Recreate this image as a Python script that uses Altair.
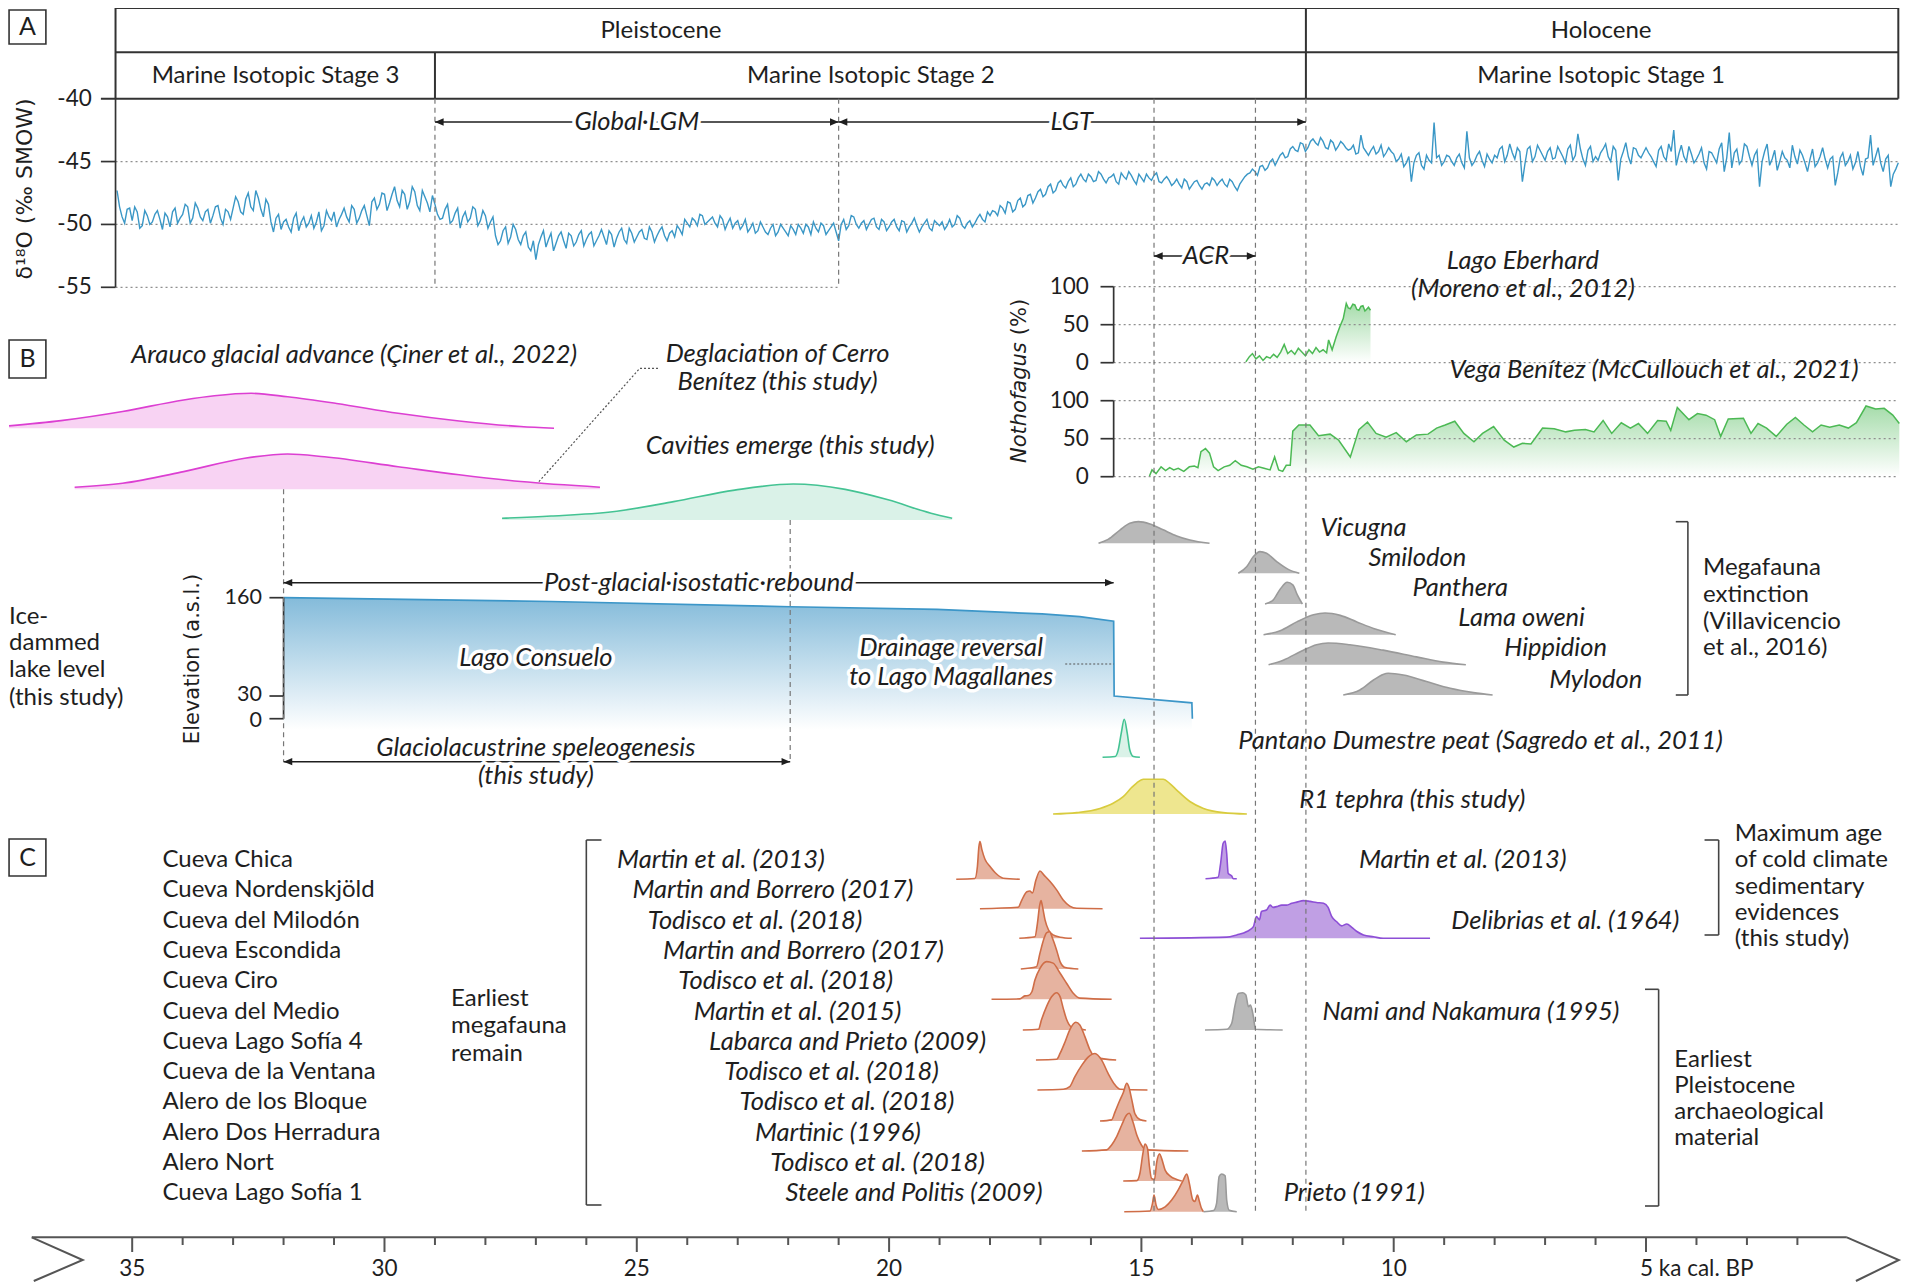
import altair as alt
import pandas as pd

# =====================================================================
# Values (ages in ka cal. BP)
# =====================================================================
# d18O (per mil SMOW): samples at 35.3, 35.2, ... 0.0 ka
D18O_FIRST_AGE = 35.3
D18O_STEP = 0.1
D18O = [
    -47.3, -49.4, -48.8,
    -49.7, -49.0, -50.1, -49.3, -49.8, -48.9, -50.4, -49.4, -49.0, -49.9,
    -49.2, -48.6, -49.5, -48.7, -49.7, -48.8, -49.3, -48.5, -50.0, -49.0,
    -48.7, -48.2, -49.2, -47.5, -48.9, -47.9, -49.4, -48.4, -50.6, -49.2,
    -49.8, -50.2, -49.5, -50.5, -49.4, -49.9, -50.3, -49.0, -50.1, -49.4,
    -49.0, -49.6, -48.7, -49.8, -48.8, -49.5, -48.5, -50.1, -47.9, -48.4,
    -47.6, -48.3, -47.0, -48.6, -47.6, -48.2, -47.4, -48.9, -47.8, -49.0,
    -48.4, -49.6, -48.8, -49.9, -49.1, -50.3, -49.0, -49.5, -48.8, -49.7,
    -49.3, -49.8, -50.9, -51.3, -50.2, -51.0, -50.4, -51.6, -50.6, -52.1,
    -52.8, -51.0, -51.8, -50.7, -51.5, -50.6, -51.9, -50.9, -51.4, -50.5,
    -51.2, -50.6, -51.3, -50.4, -51.6, -50.8, -51.1, -50.3, -51.5, -50.7,
    -51.0, -50.4, -51.2, -50.6, -50.9, -50.2, -51.3, -50.5, -50.1, -50.8,
    -49.9, -49.5, -50.1, -49.3, -49.8, -49.4, -50.2, -49.6, -49.9, -50.3,
    -49.7, -50.1, -50.6, -49.9, -50.5, -50.2, -50.8, -50.0, -50.6, -50.3,
    -50.9, -50.4, -50.0, -50.7, -50.2, -49.8, -50.6, -50.1, -50.5, -49.9,
    -51.3, -49.6, -50.1, -49.4, -50.3, -49.7, -50.0, -49.5, -50.4, -49.8,
    -50.2, -49.6, -50.5, -49.8, -50.2, -49.5, -50.6, -49.9, -50.3, -49.7,
    -50.1, -50.4, -49.6, -50.0, -49.5, -50.3, -49.7, -49.9, -49.2, -49.8,
    -49.3, -49.0, -48.5, -49.1, -48.3, -48.8, -47.9, -48.4, -47.6, -47.9,
    -47.2, -47.6, -46.8, -47.3, -46.5, -47.1, -46.3, -46.8, -46.0, -46.6,
    -46.2, -46.5, -46.0, -46.7, -46.2, -46.6, -45.9, -46.4, -46.1, -46.8,
    -46.3, -46.0, -46.5, -45.9, -46.7, -46.2, -46.9, -46.4, -47.1, -46.6,
    -46.9, -46.5, -47.2, -46.7, -46.3, -46.9, -46.4, -47.0, -46.6, -47.3,
    -46.5, -46.0, -45.6, -46.1, -45.3, -45.5, -44.8, -44.9, -44.3, -44.6,
    -43.8, -44.2, -43.6, -43.9, -43.2, -43.7, -43.4, -44.0, -43.5, -43.8,
    -43.6, -44.1, -43.7, -44.3, -43.9, -44.5, -43.8, -44.2, -44.6, -43.9,
    -44.4, -44.8, -45.4, -44.6, -45.1, -44.3, -45.6, -44.9, -41.9, -44.5,
    -45.0, -44.6, -45.3, -44.4, -45.5, -44.7, -45.0, -44.2, -45.4, -44.8,
    -44.5, -44.0, -45.0, -43.6, -44.8, -44.2, -45.2, -43.8, -44.6, -44.1,
    -44.9, -43.9, -44.7, -44.2, -45.1, -43.7, -44.5, -44.0, -45.3, -43.8,
    -44.6, -44.3, -43.6, -45.0, -44.1, -44.8, -43.5, -45.2, -44.0, -44.7,
    -43.9, -44.6, -45.4, -43.8, -44.9, -44.2, -45.3, -43.7, -45.0, -44.4,
    -44.8, -43.9, -45.6, -44.3, -45.1, -43.5, -44.7, -45.5, -44.0, -44.9,
    -43.8, -45.3, -44.1, -45.0, -43.6, -44.8, -45.7, -44.2, -44.9, -43.7,
    -45.2, -44.5, -45.8, -44.0, -45.1, -43.9, -45.5, -44.6, -45.9, -44.3,
    -45.0, -45.6, -44.2, -46.1, -44.7, -45.3, -43.9, -45.8, -44.5, -46.0,
    -45.1,
]
# d18O samples in between: 35.25, 35.15, ... 0.05 ka
D18O_MID_FIRST_AGE = 35.25
D18O_MID = [
    -48.6, -49.9, -48.7,
    -48.6, -50.3, -48.9, -50.0, -49.2, -49.6, -49.1, -50.2, -48.7, -49.5,
    -48.4, -49.9, -48.3, -49.4, -49.0, -49.9, -48.6, -49.5, -48.8, -49.6,
    -47.8, -49.0, -48.0, -48.6, -47.3, -48.8, -48.0, -49.8, -49.5, -50.4,
    -49.6, -50.6, -49.1, -49.8, -50.2, -49.3, -49.8, -50.5, -48.9, -49.7,
    -50.2, -49.2, -49.4, -48.5, -49.9, -48.9, -49.3, -48.2, -48.8, -47.5,
    -48.9, -47.6, -48.1, -47.3, -48.8, -47.0, -48.5, -47.3, -48.3, -47.7,
    -49.2, -49.5, -48.4, -49.7, -48.7, -49.4, -49.8, -48.6, -50.1, -48.9,
    -50.3, -49.4, -51.6, -50.5, -51.5, -50.0, -51.2, -50.9, -51.8, -51.3,
    -51.6, -50.5, -51.2, -52.1, -50.9, -51.3, -50.7, -51.7, -50.8, -51.7,
    -50.8, -51.7, -50.9, -51.0, -50.5, -51.8, -50.6, -51.2, -50.3, -51.4,
    -50.6, -51.1, -50.2, -51.4, -50.5, -50.9, -50.7, -51.0, -50.4, -49.6,
    -50.2, -49.7, -49.2, -50.0, -49.6, -49.9, -49.3, -50.4, -49.5, -49.9,
    -50.4, -49.6, -50.3, -50.7, -49.8, -50.6, -50.3, -50.9, -50.0, -50.6,
    -50.1, -50.8, -50.3, -50.0, -50.8, -50.3, -49.9, -50.8, -50.2, -50.6,
    -50.0, -50.4, -49.3, -50.0, -49.9, -50.4, -49.6, -50.2, -49.6, -50.5,
    -49.8, -50.2, -49.7, -50.6, -49.9, -50.1, -50.2, -49.6, -50.5, -49.9,
    -49.8, -50.1, -50.2, -49.3, -50.1, -49.9, -50.2, -49.5, -49.6, -49.0,
    -48.9, -49.3, -48.7, -48.2, -49.0, -48.1, -48.6, -47.7, -48.3, -47.4,
    -47.8, -47.0, -47.5, -46.7, -46.9, -46.6, -47.0, -46.3, -46.4, -46.0,
    -46.6, -45.8, -46.4, -46.3, -46.0, -46.8, -46.2, -45.8, -46.5, -46.0,
    -46.6, -46.3, -46.1, -46.6, -46.4, -46.5, -46.7, -46.8, -46.4, -47.2,
    -46.6, -46.9, -46.8, -46.9, -46.5, -46.6, -46.8, -46.4, -47.0, -46.8,
    -46.2, -45.9, -45.8, -45.4, -45.7, -45.0, -45.3, -44.5, -44.7, -44.0,
    -44.1, -43.5, -44.2, -43.4, -43.5, -43.1, -43.9, -43.3, -44.1, -43.4,
    -43.9, -44.0, -44.4, -42.9, -44.2, -44.1, -44.4, -43.7, -44.3, -44.2,
    -45.0, -44.4, -45.1, -46.6, -44.5, -45.3, -44.5, -45.1, -44.7, -45.3,
    -44.5, -45.0, -44.7, -45.1, -42.6, -45.3, -44.5, -44.9, -44.4, -45.1,
    -44.7, -43.8, -44.5, -44.3, -43.9, -46.6, -44.0, -45.0, -43.7, -44.5,
    -44.2, -44.8, -43.8, -44.6, -44.0, -44.9, -42.8, -44.8, -44.1, -45.0,
    -44.9, -44.0, -44.6, -43.8, -46.5, -44.2, -44.6, -43.9, -44.5, -44.3,
    -44.3, -45.0, -44.1, -44.6, -43.6, -42.5, -44.4, -44.6, -43.8, -45.1,
    -44.4, -45.1, -44.2, -44.7, -44.0, -45.8, -42.7, -44.3, -45.2, -43.6,
    -44.6, -44.5, -47.0, -44.2, -45.3, -44.1, -45.0, -44.7, -45.5, -44.6,
    -44.1, -45.1, -44.8, -45.4, -44.6, -44.8, -44.8, -46.9, -44.7, -45.3,
    -44.5, -45.1, -45.4, -44.8, -42.9, -44.6, -45.1, -44.8, -47.0, -45.6,
]

# Nothofagus (%)
LAGO_EBERHARD = [
    (12.93, 1), (12.86, 8), (12.80, 12), (12.73, 5), (12.66, 9), (12.59, 3), (12.52, 8),
    (12.45, 6), (12.38, 11), (12.31, 7), (12.24, 14), (12.17, 24), (12.10, 12), (12.03, 16),
    (11.96, 11), (11.89, 19), (11.82, 14), (11.75, 9), (11.68, 17), (11.61, 12), (11.54, 20),
    (11.47, 14), (11.40, 17), (11.33, 13), (11.29, 30), (11.22, 17), (11.14, 34), (11.07, 47),
    (11.00, 58), (10.94, 78), (10.90, 72), (10.86, 71), (10.81, 77), (10.77, 76), (10.73, 70),
    (10.69, 69), (10.65, 74), (10.61, 75), (10.57, 68), (10.54, 70), (10.50, 73), (10.46, 69),
]
VEGA_BENITEZ = [
    (14.84, 1), (14.79, 9), (14.71, 4), (14.61, 13), (14.52, 8), (14.44, 12), (14.36, 9),
    (14.27, 11), (14.16, 7), (14.05, 13), (13.95, 14), (13.88, 12), (13.82, 33), (13.73, 37),
    (13.65, 31), (13.57, 13), (13.48, 8), (13.36, 13), (13.25, 15), (13.14, 21), (13.02, 15),
    (12.91, 13), (12.79, 10), (12.68, 13), (12.57, 11), (12.45, 9), (12.36, 26), (12.28, 9),
    (12.20, 7), (12.13, 15), (12.05, 15), (12.00, 60), (11.88, 68), (11.66, 68), (11.49, 54),
    (11.26, 56), (11.09, 48), (10.86, 26), (10.69, 62), (10.52, 72), (10.35, 57), (10.15, 52),
    (9.95, 58), (9.75, 46), (9.55, 55), (9.32, 56), (9.15, 64), (8.98, 68), (8.79, 73),
    (8.61, 57), (8.41, 46), (8.24, 57), (8.02, 66), (7.81, 48), (7.62, 39), (7.45, 44),
    (7.28, 43), (7.05, 64), (6.82, 63), (6.59, 59), (6.42, 61), (6.20, 62), (6.03, 59),
    (5.85, 74), (5.68, 57), (5.49, 71), (5.31, 64), (5.15, 70), (4.97, 57), (4.77, 74),
    (4.60, 73), (4.51, 61), (4.38, 91), (4.15, 75), (3.98, 83), (3.81, 81), (3.64, 75),
    (3.52, 53), (3.37, 76), (3.07, 77), (2.92, 57), (2.78, 70), (2.61, 64), (2.42, 53),
    (2.21, 69), (2.04, 78), (1.87, 68), (1.70, 59), (1.53, 68), (1.36, 65), (1.17, 68),
    (0.99, 64), (0.83, 71), (0.64, 93), (0.45, 89), (0.28, 90), (0.11, 81), (-0.02, 70),
]

# Ice-dammed lake level (m a.s.l.)
LAKE_LEVEL = [(32.0, 160), (26.7, 155), (21.96, 148), (19.05, 144.5), (16.97, 138.5),
              (16.22, 135), (15.55, 129), (15.54, 30), (14.0, 21), (13.99, 0)]

# Relative probability curves (age, relative density)
ARAUCO = [(37.44, 0.07), (36.41, 0.22), (35.19, 0.48), (33.98, 0.81), (33.37, 0.93), (32.64, 1.0),
          (31.92, 0.90), (30.95, 0.71), (29.73, 0.43), (28.52, 0.21), (27.30, 0.05), (26.64, 0.0)]
DEGLACIATION = [(36.14, 0.06), (35.19, 0.17), (33.98, 0.50), (32.77, 0.88), (31.92, 1.0), (31.19, 0.92),
                (29.73, 0.64), (28.52, 0.41), (27.30, 0.22), (25.73, 0.06)]
CAVITIES = [(27.67, 0.05), (26.70, 0.11), (25.48, 0.23), (24.27, 0.51), (23.06, 0.83), (21.9, 1.0),
            (20.87, 0.85), (20.02, 0.56), (19.17, 0.19), (18.75, 0.05)]
VICUGNA = [(15.85, 0), (15.66, 0.18), (15.42, 0.62), (15.23, 0.92), (15.06, 1.0), (14.83, 0.89),
           (14.57, 0.62), (14.30, 0.34), (14.04, 0.15), (13.65, 0)]
SMILODON = [(13.08, 0), (12.91, 0.31), (12.78, 0.77), (12.65, 1.0), (12.52, 0.92), (12.32, 0.54),
            (12.09, 0.18), (11.87, 0)]
PANTHERA = [(12.55, 0), (12.39, 0.18), (12.25, 0.68), (12.11, 1.0), (12.00, 0.88), (11.91, 0.42), (11.81, 0)]
LAMA_OWENI = [(12.58, 0), (12.25, 0.18), (11.92, 0.59), (11.59, 0.92), (11.36, 1.0), (11.06, 0.89),
              (10.73, 0.59), (10.40, 0.29), (9.96, 0)]
HIPPIDION = [(12.48, 0), (12.19, 0.21), (11.79, 0.67), (11.53, 0.92), (11.30, 1.0), (10.87, 0.92),
             (10.21, 0.67), (9.55, 0.36), (9.02, 0.12), (8.57, 0)]
MYLODON = [(11.00, 0), (10.67, 0.23), (10.40, 0.69), (10.21, 0.95), (10.11, 1.0), (9.81, 0.92),
           (9.35, 0.62), (8.88, 0.31), (8.42, 0.11), (8.04, 0)]
PANTANO = [(15.77, 0), (15.52, 0.02), (15.46, 0.19), (15.40, 0.63), (15.34, 1.0), (15.28, 0.63),
           (15.23, 0.19), (15.16, 0.02), (15.03, 0)]
R1_TEPHRA = [(16.75, 0), (16.28, 0.04), (15.82, 0.16), (15.56, 0.31), (15.36, 0.50), (15.19, 0.77),
             (15.09, 0.90), (14.96, 1.0), (14.57, 1.0), (14.43, 0.87), (14.30, 0.69), (14.04, 0.36),
             (13.77, 0.16), (13.38, 0.04), (12.91, 0)]
CHICA = [(18.67, 0), (18.30, 0.02), (18.25, 0.34), (18.22, 0.87), (18.20, 1.0), (18.16, 0.78),
         (18.10, 0.53), (18.00, 0.34), (17.87, 0.14), (17.74, 0.03), (17.41, 0)]
NORDENSKJOLD = [(18.20, 0), (17.44, 0.04), (17.37, 0.23), (17.27, 0.45), (17.21, 0.47), (17.16, 0.42),
                (17.09, 0.76), (17.01, 1.0), (16.93, 0.89), (16.81, 0.72), (16.68, 0.50), (16.55, 0.23),
                (16.42, 0.07), (16.28, 0.01), (15.77, 0)]
MILODON = [(17.42, 0), (17.11, 0.04), (17.06, 0.40), (17.02, 0.84), (16.99, 1.0), (16.96, 0.84),
           (16.91, 0.49), (16.84, 0.22), (16.75, 0.09), (16.61, 0.03), (16.38, 0)]
ESCONDIDA = [(17.39, 0), (17.08, 0.06), (17.01, 0.42), (16.94, 0.77), (16.88, 0.96), (16.82, 0.99),
             (16.76, 0.81), (16.68, 0.50), (16.61, 0.19), (16.51, 0.04), (16.25, 0)]
CIRO = [(17.97, 0), (17.41, 0.01), (17.31, 0.09), (17.24, 0.10), (17.17, 0.20), (17.11, 0.51),
        (17.01, 0.82), (16.88, 1.0), (16.75, 0.96), (16.61, 0.69), (16.48, 0.42), (16.35, 0.16),
        (16.22, 0.03), (15.59, 0)]
MEDIO = [(17.35, 0), (17.04, 0.02), (16.98, 0.27), (16.88, 0.62), (16.78, 0.88), (16.68, 0.99),
         (16.61, 0.88), (16.55, 0.58), (16.48, 0.27), (16.38, 0.07), (16.10, 0)]
SOFIA4 = [(17.09, 0), (16.68, 0.02), (16.61, 0.18), (16.51, 0.49), (16.42, 0.80), (16.30, 1.0),
          (16.22, 0.93), (16.12, 0.62), (16.02, 0.27), (15.92, 0.07), (15.50, 0)]
VENTANA = [(17.06, 0), (16.55, 0.02), (16.42, 0.09), (16.32, 0.35), (16.18, 0.66), (16.05, 0.88),
           (15.92, 0.97), (15.79, 0.80), (15.66, 0.44), (15.52, 0.13), (15.42, 0.02), (14.88, 0)]
BLOQUE = [(15.82, 0), (15.59, 0.03), (15.52, 0.25), (15.44, 0.51), (15.36, 0.75), (15.29, 1.0),
          (15.25, 0.91), (15.19, 0.56), (15.13, 0.20), (15.03, 0.04), (14.90, 0)]
HERRADURA = [(16.18, 0), (15.69, 0.03), (15.59, 0.16), (15.49, 0.38), (15.39, 0.69), (15.29, 0.96),
             (15.24, 1.0), (15.17, 0.78), (15.09, 0.42), (15.00, 0.16), (14.90, 0.03), (14.07, 0)]
NORT = [(15.36, 0), (15.09, 0.01), (15.03, 0.20), (14.97, 0.73), (14.93, 0.98), (14.88, 0.87),
        (14.84, 0.38), (14.80, 0.07), (14.74, 0.04), (14.70, 0.47), (14.64, 0.72), (14.60, 0.60),
        (14.53, 0.29), (14.43, 0.13), (14.30, 0.04), (14.20, 0)]
SOFIA1 = [(15.34, 0), (14.83, 0.02), (14.78, 0.22), (14.75, 0.44), (14.71, 0.18), (14.66, 0.06),
          (14.53, 0.13), (14.40, 0.31), (14.27, 0.58), (14.17, 0.84), (14.10, 1.0), (14.05, 0.75),
          (13.98, 0.31), (13.94, 0.27), (13.89, 0.44), (13.85, 0.27), (13.81, 0.09), (13.77, 0)]
PRIETO = [(13.77, 0), (13.57, 0.03), (13.51, 0.22), (13.46, 0.93), (13.41, 1.0), (13.34, 0.95),
          (13.31, 0.31), (13.26, 0.04), (13.11, 0)]
MARTIN_2013 = [(13.73, 0), (13.48, 0.04), (13.43, 0.41), (13.38, 0.94), (13.34, 1.0), (13.31, 0.67),
               (13.28, 0.14), (13.21, 0.07), (13.18, 0), (13.11, 0)]
DELIBRIAS = [(15.03, 0), (13.31, 0.03), (13.11, 0.09), (12.91, 0.18), (12.78, 0.31), (12.72, 0.58),
             (12.66, 0.49), (12.62, 0.71), (12.52, 0.75), (12.45, 0.88), (12.39, 0.82), (12.32, 0.84),
             (12.22, 0.88), (12.12, 0.88), (12.02, 0.93), (11.92, 0.96), (11.79, 1.0), (11.66, 0.98),
             (11.53, 0.95), (11.39, 0.93), (11.30, 0.82), (11.23, 0.58), (11.13, 0.44), (11.03, 0.33),
             (10.93, 0.38), (10.83, 0.29), (10.73, 0.18), (10.60, 0.09), (10.40, 0.04), (10.21, 0), (9.28, 0)]
NAMI = [(13.74, 0), (13.31, 0.02), (13.21, 0.18), (13.15, 0.62), (13.08, 0.97), (12.99, 0.99),
        (12.93, 0.93), (12.88, 0.62), (12.84, 0.66), (12.78, 0.35), (12.74, 0.02), (12.20, 0)]

SITES = ["Cueva Chica", "Cueva Nordenskjöld", "Cueva del Milodón", "Cueva Escondida", "Cueva Ciro",
         "Cueva del Medio", "Cueva Lago Sofía 4", "Cueva de la Ventana", "Alero de los Bloque",
         "Alero Dos Herradura", "Alero Nort", "Cueva Lago Sofía 1"]
REFS = ["Martin et al. (2013)", "Martin and Borrero (2017)", "Todisco et al. (2018)",
        "Martin and Borrero (2017)", "Todisco et al. (2018)", "Martin et al. (2015)",
        "Labarca and Prieto (2009)", "Todisco et al. (2018)", "Todisco et al. (2018)",
        "Martinic (1996)", "Todisco et al. (2018)", "Steele and Politis (2009)"]
AXIS_TICKS = list(range(2, 36))
AXIS_LABELS = [35, 30, 25, 20, 15, 10]
D18O_TICKS = [-40, -45, -50, -55]
NOTHO_TICKS = [0, 50, 100]
ELEV_TICKS = [0, 30, 160]

# =====================================================================
# Layout / style
# =====================================================================
W, H = 1894, 1274
SANS = "Lato"
TFONT = "DejaVu Sans"
INK = "#1e1e1e"
FS = 24          # upright labels
FI = 25.5        # italic labels
FT = 22.5        # tick labels

XS = alt.Scale(domain=[-0.073, 37.461], reverse=True, nice=False, zero=False)
PAGE = alt.Scale(domain=[8, 8 + H], reverse=True, nice=False, zero=False)


def panel_scale(domain, top, bottom):
    return alt.Scale(domain=domain, range=[bottom - 8, top - 8], nice=False, zero=False)


def xenc(f):
    return alt.X(f + ':Q', scale=XS, axis=None)


def rules(rows, ys=PAGE, color='#333', width=1.5, dash=None):
    df = pd.DataFrame(rows, columns=['x', 'x2', 'y', 'y2'])
    kw = dict(color=color, strokeWidth=width)
    if dash is not None:
        kw['strokeDash'] = dash
    return alt.Chart(df).mark_rule(**kw).encode(
        x=xenc('x'), x2='x2:Q', y=alt.Y('y:Q', scale=ys, axis=None), y2='y2:Q')


def texts(rows, ys=PAGE, size=FS, italic=False, align='center', font=SANS, color=INK,
          angle=0, halo=0, dx=0, dy=0):
    df = pd.DataFrame(rows, columns=['x', 'y', 't'])
    base = alt.Chart(df).encode(x=xenc('x'), y=alt.Y('y:Q', scale=ys, axis=None), text='t:N')
    kw = dict(font=font, fontSize=size, fontStyle='italic' if italic else 'normal',
              align=align, baseline='middle', angle=angle, dx=dx, dy=dy)
    out = []
    if halo:
        out.append(base.mark_text(fill='white', stroke='white', strokeWidth=halo,
                                  strokeJoin='round', **kw))
    out.append(base.mark_text(fill=color, **kw))
    return out


def polylines(rows, ys=PAGE, color='#555', width=2, dash=None):
    df = pd.DataFrame(rows, columns=['g', 'o', 'x', 'y'])
    kw = dict(color=color, strokeWidth=width)
    if dash is not None:
        kw['strokeDash'] = dash
    return alt.Chart(df).mark_line(**kw).encode(
        x=xenc('x'), y=alt.Y('y:Q', scale=ys, axis=None), detail='g:N', order='o:Q')


RIGHT_HEAD = "M0,0L-1,-0.42L-1,0.42Z"
LEFT_HEAD = "M0,0L1,-0.42L1,0.42Z"


def heads(rows, shape):
    df = pd.DataFrame(rows, columns=['x', 'y'])
    return alt.Chart(df).mark_point(shape=shape, filled=True, size=300, color=INK,
                                    opacity=1, strokeWidth=0).encode(
        x=xenc('x'), y=alt.Y('y:Q', scale=PAGE, axis=None))


def density(points, base, h, stroke, fill, interp='monotone'):
    df = pd.DataFrame(points, columns=['age', 'p'])
    ys = alt.Scale(domain=[0, 1], range=[base - 8, base - 8 - h], nice=False, zero=False)
    b = alt.Chart(df).encode(x=xenc('age'), y=alt.Y('p:Q', scale=ys, axis=None))
    return alt.layer(b.mark_area(color=fill, interpolate=interp, opacity=1),
                     b.mark_line(color=stroke, strokeWidth=1.6, interpolate=interp))


ORANGE = ('#cf6d47', '#e6b3a0')
PURPLE = ('#8d4fd6', '#c09fe4')
GRAY = ('#9a9a9a', '#b9b9b9')
MAGENTA = ('#dc3fd2', '#f8d3f3')
TEAL = ('#44c393', '#daf2e8')
YELLOW = ('#d8cb3e', '#eee68f')

ROW_BASE = [879.3, 908.7, 938.3, 969.0, 999.3, 1030.0, 1060.0, 1090.0, 1121.0, 1151.0, 1181.0, 1211.7]
CURVES = [
    (ARAUCO, 428.3, 35, MAGENTA), (DEGLACIATION, 489.3, 35.3, MAGENTA), (CAVITIES, 520, 36, TEAL),
    (VICUGNA, 543.3, 21.7, GRAY), (SMILODON, 573.3, 21.7, GRAY), (PANTHERA, 604, 21.7, GRAY),
    (LAMA_OWENI, 634.7, 21.7, GRAY), (HIPPIDION, 664.7, 21.7, GRAY), (MYLODON, 695, 21.7, GRAY),
    (PANTANO, 757.3, 38, TEAL), (R1_TEPHRA, 814, 34.7, YELLOW),
    (CHICA, ROW_BASE[0], 37.7, ORANGE), (NORDENSKJOLD, ROW_BASE[1], 37.7, ORANGE),
    (MILODON, ROW_BASE[2], 37.7, ORANGE), (ESCONDIDA, ROW_BASE[3], 37.7, ORANGE),
    (CIRO, ROW_BASE[4], 37.7, ORANGE), (MEDIO, ROW_BASE[5], 37.7, ORANGE),
    (SOFIA4, ROW_BASE[6], 37.7, ORANGE), (VENTANA, ROW_BASE[7], 37.7, ORANGE),
    (BLOQUE, ROW_BASE[8], 37.7, ORANGE), (HERRADURA, ROW_BASE[9], 37.7, ORANGE),
    (NORT, ROW_BASE[10], 37.7, ORANGE), (SOFIA1, ROW_BASE[11], 37.7, ORANGE),
    (PRIETO, ROW_BASE[11], 37.7, GRAY), (MARTIN_2013, 878.7, 37.7, PURPLE),
    (DELIBRIAS, ROW_BASE[2], 37.7, PURPLE), (NAMI, ROW_BASE[5], 37.7, GRAY),
]


def gradient(col):
    return alt.Gradient(gradient='linear',
                        stops=[alt.GradientStop(color='white', offset=0),
                               alt.GradientStop(color=col, offset=1)],
                        x1=1, x2=1, y1=1, y2=0)


# ---------------- panel A: d18O ----------------
d18_ys = panel_scale([-55, -40], 98.7, 287.3)
d18_df = pd.concat([
    pd.DataFrame({'age': [round(D18O_FIRST_AGE - D18O_STEP * i, 2) for i in range(len(D18O))], 'v': D18O}),
    pd.DataFrame({'age': [round(D18O_MID_FIRST_AGE - D18O_STEP * i, 2) for i in range(len(D18O_MID))],
                  'v': D18O_MID}),
]).sort_values('age', ascending=False).reset_index(drop=True)
d18_panel = alt.layer(
    rules([(35.33, 0.0, -45, -45), (35.33, 0.0, -50, -50), (35.33, 21.0, -55, -55)], d18_ys,
          color='#8f8f8f', width=1.3, dash=[2, 3]),
    alt.Chart(d18_df).mark_line(color='#3a97c6', strokeWidth=1.4).encode(
        x=xenc('age'), y=alt.Y('v:Q', scale=d18_ys, axis=None)),
    rules([(35.33, 35.33, -55, -40)] + [(35.62, 35.33, v, v) for v in D18O_TICKS[1:]], d18_ys,
          color='#333', width=1.7),
    *texts([(35.80, v, str(v)) for v in D18O_TICKS], d18_ys, size=FT, align='right'),
)


# ---------------- Nothofagus panels ----------------
def notho_panel(points, top, bottom):
    ys = panel_scale([0, 100], top, bottom)
    df = pd.DataFrame(points, columns=['age', 'pct'])
    b = alt.Chart(df).encode(x=xenc('age'), y=alt.Y('pct:Q', scale=ys, axis=None))
    return alt.layer(
        b.mark_area(color=gradient('#a6dcab'), opacity=1),
        rules([(15.55, 0.0, v, v) for v in NOTHO_TICKS], ys, color='#8f8f8f', width=1.3, dash=[2, 3]),
        b.mark_line(color='#4cb954', strokeWidth=1.5),
        rules([(15.55, 15.55, 0, 100)] + [(15.81, 15.55, v, v) for v in NOTHO_TICKS], ys,
              color='#333', width=1.7),
        *texts([(16.04, v, str(v)) for v in NOTHO_TICKS], ys, size=FT, align='right'),
    )


notho_le = notho_panel(LAGO_EBERHARD, 286.7, 362.7)
notho_vb = notho_panel(VEGA_BENITEZ, 400.7, 476.7)

# ---------------- lake level ----------------
lake_ys = panel_scale([0, 160], 597.7, 718.7)
lake_df = pd.DataFrame(LAKE_LEVEL, columns=['age', 'elev'])
lake_area_df = lake_df.iloc[:-1].assign(low=-15)
lake_panel = alt.layer(
    alt.Chart(lake_area_df).mark_area(color=gradient('#84bbda'), opacity=1).encode(
        x=xenc('age'), y=alt.Y('elev:Q', scale=lake_ys, axis=None), y2='low:Q'),
    alt.Chart(lake_df).mark_line(color='#3c96c8', strokeWidth=1.7).encode(
        x=xenc('age'), y=alt.Y('elev:Q', scale=lake_ys, axis=None)),
    rules([(32.0, 32.0, 0, 160)] + [(32.28, 32.0, v, v) for v in ELEV_TICKS], lake_ys,
          color='#333', width=1.7),
    *texts([(32.43, 160, "160")], lake_ys, size=21.5, align='right'),
    *texts([(32.43, 30, "30")], lake_ys, size=21.5, align='right', dy=-1.5),
    *texts([(32.43, 0, "0")], lake_ys, size=21.5, align='right', dy=2),
)

densities = [density(pts, base, h, col[0], col[1]) for pts, base, h, col in CURVES]

# ---------------- page furniture (behind) ----------------
header_rules = [
    (35.33, 0.0, 8, 8), (35.33, 0.0, 52.3, 52.3), (35.62, 0.0, 98.7, 98.7),
    (35.33, 35.33, 8, 98.7), (0.0, 0.0, 8, 98.7), (11.74, 11.74, 8, 98.7), (29.0, 29.0, 52.3, 98.7),
]
bracket_rules = [
    (4.17, 4.17, 521.7, 695), (4.41, 4.17, 521.7, 521.7), (4.41, 4.17, 695, 695),
    (26.0, 26.0, 840, 1205), (26.0, 25.70, 840, 840), (26.0, 25.70, 1205, 1205),
    (3.56, 3.56, 840, 935), (3.84, 3.56, 840, 840), (3.84, 3.56, 935, 935),
    (4.75, 4.75, 989.3, 1206), (5.02, 4.75, 989.3, 989.3), (5.02, 4.75, 1206, 1206),
]
axis_rules = [(36.99, 1.02, 1237.3, 1237.3)] + [
    (t, t, 1237.3, 1252 if t % 5 == 0 else 1245) for t in AXIS_TICKS]
chevrons = [("l", 0, 36.99, 1237.3), ("l", 1, 35.98, 1260), ("l", 2, 36.95, 1281),
            ("r", 0, 1.02, 1237.3), ("r", 1, -0.01, 1260), ("r", 2, 0.84, 1281)]
box_df = pd.DataFrame([(37.44, 36.71, 10, 44), (37.44, 36.71, 340, 378), (37.44, 36.71, 839, 876)],
                      columns=['x', 'x2', 'y', 'y2'])
boxes = alt.Chart(box_df).mark_rect(fill='white', stroke='#333', strokeWidth=1.6).encode(
    x=xenc('x'), x2='x2:Q', y=alt.Y('y:Q', scale=PAGE, axis=None), y2='y2:Q')

back = alt.layer(
    rules(header_rules, color='#333', width=2),
    boxes,
    rules(bracket_rules, color='#444', width=1.6),
    rules(axis_rules, color='#555', width=2),
    polylines(chevrons, color='#555', width=2),
)

# ---------------- page furniture (front) ----------------
dashed = [(29.0, 29.0, 98.7, 287.3), (21.0, 21.0, 98.7, 287.3),
          (14.75, 14.75, 98.7, 1211), (12.74, 12.74, 98.7, 1211), (11.74, 11.74, 98.7, 1211),
          (32.0, 32.0, 489.3, 761.7), (21.96, 21.96, 520, 761.7)]
leaders = [("a", 0, 26.94, 481.7), ("a", 1, 24.94, 368.3), ("a", 2, 24.58, 368.3),
           ("b", 0, 16.51, 664), ("b", 1, 15.55, 664)]
arrows = [(29.0, 21.0, 122, 122), (21.0, 11.74, 122, 122), (14.75, 12.74, 256, 256),
          (32.0, 15.55, 582.7, 582.7), (32.0, 21.96, 761.7, 761.7)]
left_heads = [(29.0, 122), (21.0, 122), (14.75, 256), (32.0, 582.7), (32.0, 761.7)]
right_heads = [(21.0, 122), (11.74, 122), (12.74, 256), (15.55, 582.7), (21.96, 761.7)]

header_text = [(24.52, 31, "Pleistocene"), (5.89, 31, "Holocene"),
               (32.16, 76, "Marine Isotopic Stage 3"), (20.36, 76, "Marine Isotopic Stage 2"),
               (5.89, 76, "Marine Isotopic Stage 1")]
letters = [(37.075, 27, "A"), (37.075, 359, "B"), (37.075, 857.5, "C")]
halo_italic = [(25.0, 122, "Global·LGM"), (16.38, 122, "LGT"), (13.72, 256, "ACR"),
               (23.77, 582.7, "Post-glacial·isostatic·rebound"),
               (27.0, 658.3, "Lago Consuelo"), (18.77, 648, "Drainage reversal"),
               (18.77, 677, "to Lago Magallanes"),
               (27.0, 747.5, "Glaciolacustrine speleogenesis"), (27.0, 776, "(this study)")]
center_italic = [(7.44, 261, "Lago Eberhard"), (7.44, 289, "(Moreno et al., 2012)"),
                 (4.84, 370, "Vega Benítez (McCullouch et al., 2021)"),
                 (30.60, 355, "Arauco glacial advance (Çiner et al., 2022)"),
                 (22.21, 354, "Deglaciation of Cerro"), (22.21, 382, "Benítez (this study)"),
                 (21.96, 446, "Cavities emerge (this study)")]
left_normal = ([(37.44, 617, "Ice-"), (37.44, 643.3, "dammed"), (37.44, 670, "lake level"),
                (37.44, 697.5, "(this study)"),
                (3.87, 568.3, "Megafauna"), (3.87, 595, "extinction"), (3.87, 621.7, "(Villavicencio"),
                (3.87, 648.3, "et al., 2016)"),
                (28.68, 998.5, "Earliest"), (28.68, 1026, "megafauna"), (28.68, 1053.5, "remain"),
                (3.24, 834, "Maximum age"), (3.24, 860, "of cold climate"), (3.24, 886.7, "sedimentary"),
                (3.24, 913.3, "evidences"), (3.24, 939.3, "(this study)"),
                (4.44, 1060, "Earliest"), (4.44, 1086, "Pleistocene"), (4.44, 1111.7, "archaeological"),
                (4.44, 1138.3, "material")]
               + [(34.40, 860 + 30.3 * i, s) for i, s in enumerate(SITES)])
left_italic = ([(11.45, 528.3, "Vicugna"), (10.50, 558.3, "Smilodon"), (9.63, 588.3, "Panthera"),
                (8.72, 618.3, "Lama oweni"), (7.81, 648.3, "Hippidion"), (6.92, 680, "Mylodon"),
                (13.08, 740.7, "Pantano Dumestre peat (Sagredo et al., 2011)"),
                (11.87, 800, "R1 tephra (this study)"),
                (10.69, 860, "Martin et al. (2013)"), (8.86, 921, "Delibrias et al. (1964)"),
                (11.41, 1011.5, "Nami and Nakamura (1995)"), (12.18, 1193, "Prieto (1991)")]
               + [(25.39 - 0.3034 * i, 860 + 30.3 * i, r) for i, r in enumerate(REFS)])
axis_text = [(t, 1269, str(t)) for t in AXIS_LABELS]

front = alt.layer(
    rules(dashed, color='#777', width=1.2, dash=[5, 4]),
    polylines(leaders, color='#555', width=1.2, dash=[2, 2]),
    rules(arrows, color=INK, width=1.6),
    heads(left_heads, LEFT_HEAD),
    heads(right_heads, RIGHT_HEAD),
    *texts(header_text),
    *texts(letters, size=25),
    *texts(halo_italic, size=FI, italic=True, halo=7),
    *texts(center_italic, size=FI, italic=True),
    *texts(left_normal, align='left'),
    *texts(left_italic, size=FI, italic=True, align='left'),
    *texts(axis_text, size=FT),
    *texts([(5, 1269, "5 ka cal. BP")], size=FT, align='left', dx=-6),
    *texts([(37.13, 189, "δ¹⁸O (‰ SMOW)")], font=TFONT, size=22, angle=270),
    *texts([(33.80, 659, "Elevation (a.s.l.)")], font=TFONT, size=21, angle=270),
    *texts([(17.41, 402.6, "Nothofagus")], font=TFONT, size=21, angle=270, italic=True),
    *texts([(17.41, 317, "(%)")], font=TFONT, size=21, angle=270),
)

chart = alt.layer(back, d18_panel, notho_le, notho_vb, lake_panel, *densities, front).resolve_scale(
    y='independent'
).properties(
    width=W, height=H, padding=0, autosize=alt.AutoSizeParams(type='none'), background='white'
).configure_view(strokeWidth=0)

chart.save("out.html", embed_options={"renderer": "svg", "actions": False})
